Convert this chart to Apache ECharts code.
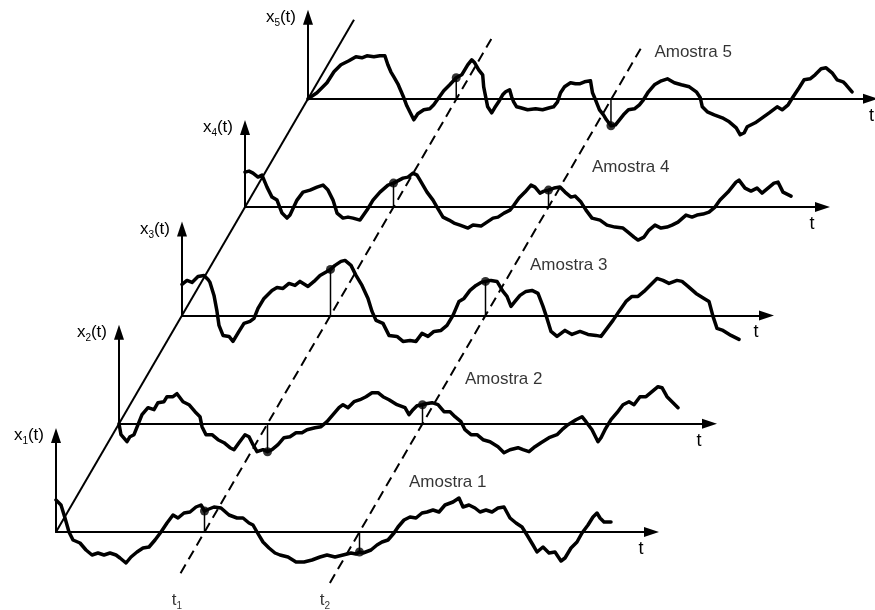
<!DOCTYPE html>
<html>
<head>
<meta charset="utf-8">
<title>Amostras de um processo aleatório</title>
<script src="https://cdn.jsdelivr.net/npm/echarts@6/dist/echarts.min.js"></script>
<style>
    html, body { margin: 0; padding: 0; background: #fff; }
    #grafico { width: 875px; height: 610px; }
</style>
</head>
<body>
<div id="grafico"></div>
<script>
// instantes de observação t1 e t2 (mesma escala do eixo t)
var instantes = [148.5, 303.5];
var nomesInstantes = ['1', '2'];

// valor de cada amostra (1..5) nos instantes t1 e t2
var valoresT1 = [21, -28, 46, 24, 21];
var valoresT2 = [-20, 19, 34, 17, -27];

var nomesAmostras = ['Amostra 1', 'Amostra 2', 'Amostra 3', 'Amostra 4', 'Amostra 5'];

// [t, x(t)]
var amostra1 = [[0, 32], [5, 27], [9, 14], [13, 0], [17, -8], [24, -11], [30, -18], [36, -23], [42, -21], [48, -23],
    [54, -21], [60, -23], [64, -26], [70, -31], [75, -25], [81, -20], [87, -16], [93, -15], [99, -8], [105, 0],
    [111, 9], [117, 17], [122, 14], [128, 19], [134, 20], [140, 25], [145, 27], [148.5, 21], [153, 23], [158, 25],
    [165, 24], [173, 17], [181, 14], [187, 14], [193, 9], [197, 7], [201, 0], [207, -10], [213, -16], [219, -21],
    [224, -23], [232, -25], [240, -30], [248, -30], [256, -28], [264, -25], [271, -23], [279, -25], [287, -23],
    [295, -21], [300, -22], [303.5, -20], [307, -21], [315, -18], [321, -13], [326, -10], [332, -8], [338, -1],
    [342, 5], [348, 12], [354, 15], [360, 14], [366, 19], [371, 20], [377, 22], [383, 20], [389, 27], [397, 30],
    [403, 34], [407, 25], [413, 27], [419, 24], [424, 20], [430, 22], [436, 20], [442, 24], [448, 25], [454, 14],
    [460, 9], [466, 5], [471, -3], [477, -13], [481, -20], [487, -15], [493, -21], [499, -20], [505, -29],
    [509, -26], [515, -16], [521, -10], [526, -1], [532, 7], [537, 15], [541, 19], [544, 14], [548, 10], [555, 10]];

var amostra2 = [[0, 0], [2, -11], [8, -18], [11, -13], [15, -11], [19, -1], [23, 9], [29, 16], [35, 14], [39, 21],
    [45, 22], [48, 27], [54, 27], [58, 30], [64, 22], [70, 19], [76, 12], [81, 7], [83, -3], [87, -11], [93, -11],
    [99, -16], [105, -19], [111, -24], [115, -26], [120, -19], [126, -11], [130, -13], [134, -21], [138, -28],
    [144, -26], [148.5, -28], [153, -26], [159, -21], [165, -14], [171, -13], [177, -9], [183, -9], [188, -6],
    [196, -4], [202, -3], [208, 2], [214, 9], [220, 16], [224, 19], [229, 16], [235, 22], [241, 24], [247, 27],
    [253, 31], [259, 31], [264, 27], [270, 24], [278, 19], [286, 16], [290, 9], [294, 14], [298, 18], [303.5, 19],
    [307, 20], [313, 21], [319, 19], [325, 12], [331, 12], [336, 7], [342, 2], [346, -6], [352, -11], [358, -11],
    [364, -16], [371, -18], [379, -23], [385, -29], [391, -26], [399, -24], [404, -26], [410, -28], [416, -23],
    [422, -19], [430, -14], [438, -11], [443, -6], [449, -1], [457, 4], [463, 7], [467, 2], [473, -6], [479, -18],
    [482, -14], [486, -6], [492, 4], [498, 11], [504, 19], [510, 22], [515, 19], [521, 27], [527, 27], [533, 32],
    [539, 37], [543, 36], [548, 27], [554, 21], [559, 16]];

var amostra3 = [[0, 31], [5, 35], [10, 33], [16, 39], [22, 40], [26, 36], [28, 33], [32, 20], [35, 4], [37, -10],
    [41, -20], [47, -21], [51, -26], [57, -16], [62, -8], [68, -6], [72, -3], [76, 7], [82, 17], [90, 25], [95, 28],
    [101, 27], [107, 32], [113, 30], [118, 34], [126, 29], [132, 34], [138, 40], [148.5, 46], [153, 50], [159, 54],
    [163, 55], [169, 50], [174, 40], [180, 30], [186, 17], [190, 4], [194, -5], [201, -8], [207, -20], [215, -21],
    [221, -26], [228, -25], [234, -26], [240, -18], [246, -21], [252, -16], [259, -15], [265, -10], [271, 0],
    [277, 14], [282, 17], [288, 25], [294, 30], [299, 33], [303.5, 34], [309, 35], [315, 34], [321, 24], [325, 19],
    [329, 9], [333, 14], [338, 20], [344, 24], [350, 25], [356, 22], [361, 9], [365, -3], [369, -16], [375, -21],
    [383, -15], [390, -19], [398, -16], [406, -19], [414, -20], [419, -21], [425, -13], [431, -5], [437, 4],
    [444, 14], [450, 19], [456, 19], [462, 24], [468, 30], [475, 37], [481, 35], [487, 32], [495, 35], [500, 34],
    [506, 29], [514, 22], [522, 17], [527, 14], [531, -1], [535, -13], [541, -15], [549, -20], [557, -24]];

var amostra4 = [[0, 35], [4, 36], [8, 34], [13, 30], [17, 32], [22, 20], [27, 10], [32, 7], [37, -6], [42, -11],
    [45, -8], [52, 7], [58, 15], [65, 17], [72, 20], [78, 22], [83, 17], [88, 7], [92, -6], [98, -11], [103, -10],
    [108, -11], [115, -13], [122, -3], [128, 7], [135, 15], [143, 22], [148.5, 24], [158, 29], [163, 30], [168, 34],
    [172, 32], [175, 27], [182, 15], [188, 7], [192, 0], [198, -10], [204, -13], [209, -16], [215, -18], [223, -21],
    [228, -18], [236, -19], [242, -15], [248, -11], [253, -10], [259, -6], [265, -3], [269, 2], [274, 9], [280, 15],
    [286, 22], [290, 20], [295, 14], [299, 16], [303.5, 17], [309, 19], [315, 20], [320, 15], [326, 10], [330, 11],
    [336, 5], [341, -3], [347, -11], [355, -13], [362, -18], [370, -20], [378, -21], [383, -25], [389, -30],
    [393, -33], [399, -30], [404, -23], [410, -18], [416, -21], [422, -20], [427, -18], [433, -15], [441, -8],
    [447, -10], [452, -8], [458, -7], [464, -5], [470, 0], [475, 7], [483, 15], [491, 25], [494, 27], [500, 19],
    [506, 16], [512, 19], [517, 14], [523, 19], [529, 24], [533, 25], [538, 15], [546, 11]];

var amostra5 = [[0, 0], [9, 6], [19, 16], [26, 27], [33, 34], [41, 38], [48, 42], [54, 41], [59, 43], [66, 42],
    [72, 43], [77, 43], [80, 34], [83, 27], [86, 22], [90, 15], [93, 8], [96, 1], [99, -7], [103, -15], [106, -21],
    [110, -15], [116, -11], [122, -10], [126, -6], [131, 1], [136, 8], [142, 14], [148.5, 21], [154, 24], [160, 34],
    [164, 39], [167, 36], [171, 29], [175, 24], [176, 12], [178, 2], [180, -8], [184, -14], [187, -9], [191, -3],
    [195, 4], [198, 7], [202, 9], [204, 2], [206, -3], [209, -8], [213, -9], [220, -11], [228, -10], [235, -11],
    [242, -9], [246, -8], [250, -3], [253, 6], [257, 12], [263, 16], [268, 15], [272, 15], [277, 17], [283, 18],
    [285, 6], [288, -1], [292, -11], [296, -16], [299, -21], [303.5, -27], [308, -26], [312, -21], [316, -16],
    [321, -11], [327, -10], [332, -6], [336, -1], [341, 7], [347, 14], [354, 18], [360, 20], [367, 16], [374, 14],
    [382, 12], [389, 7], [393, 1], [395, -8], [400, -13], [407, -16], [415, -19], [422, -23], [429, -29], [433, -36],
    [437, -34], [440, -28], [448, -24], [455, -19], [462, -14], [470, -8], [475, -11], [481, -6], [486, 2],
    [492, 11], [497, 19], [503, 20], [508, 24], [514, 30], [519, 31], [525, 26], [530, 19], [536, 17], [539, 14],
    [545, 7]];

var amostras = [amostra1, amostra2, amostra3, amostra4, amostra5];

// disposição em perspectiva: origem da amostra 1 e deslocamento entre amostras (px)
var origem = [56, 532];
var passo = [63, -108.3];
var compEixoT = [603, 598, 592, 585, 571];
var gapNomeT = [-10.5, -10.5, -10.5, -10.5, 1];
var altEixoX = [104, 99, 94, 87, 89];
var posRotulo = [[353, 50], [346, 44], [348, 50], [347, 40], [347, 46]];
var posRotuloInstante = [[177, 600], [325, 600]];
var seta = [10, 15];

function fn_amostras(id) {
    let el = document.getElementById(id);
    let myChart = echarts.init(el);
    let fonte = "'Liberation Sans', Arial, Helvetica, sans-serif";
    let rich = {
        v: { fontSize: 17, lineHeight: 22, color: '#000', fontFamily: fonte },
        s: { fontSize: 10, lineHeight: 10, verticalAlign: 'bottom', color: '#000', fontFamily: fonte }
    };
    let preto = { color: '#000', width: 2 };
    let grid = [], xAxis = [], yAxis = [], series = [];

    function ponto(d, t) {
        return [origem[0] + t + d * passo[0], origem[1] + d * passo[1]];
    }

    for (let k = 0; k < 5; k++) {
        let o = ponto(k, 0);
        let w = compEixoT[k] - seta[1] / 2;
        let h = altEixoX[k] - seta[1] / 2;
        grid.push({ left: o[0], top: o[1] - h, width: w, height: h });
        xAxis.push({
            gridIndex: k, type: 'value', min: 0, max: w,
            axisLine: { show: true, symbol: ['none', 'triangle'], symbolSize: seta, lineStyle: preto },
            axisTick: { show: false }, axisLabel: { show: false }, splitLine: { show: false },
            name: 't', nameLocation: 'end', nameGap: gapNomeT[k],
            nameTextStyle: { fontSize: 18, color: '#000', fontFamily: fonte, align: 'center', verticalAlign: 'top', padding: [8, 0, 0, 0] }
        });
        yAxis.push({
            gridIndex: k, type: 'value', min: 0, max: h,
            axisLine: { show: true, symbol: ['none', 'triangle'], symbolSize: seta, lineStyle: preto },
            axisTick: { show: false }, axisLabel: { show: false }, splitLine: { show: false },
            name: '{v|x}{s|' + (k + 1) + '}{v|(t)}', nameLocation: 'end', nameGap: 0,
            nameTextStyle: { align: 'right', verticalAlign: 'middle', padding: [0, 12, 0, 0], rich: rich }
        });

        series.push({
            type: 'line', xAxisIndex: k, yAxisIndex: k,
            data: amostras[k],
            showSymbol: false, clip: false, silent: true, z: 3,
            lineStyle: { color: '#000', width: 3.5, join: 'round', cap: 'round' }
        });

        let vals = [valoresT1[k], valoresT2[k]];
        instantes.forEach(function (t, j) {
            series.push({
                type: 'line', xAxisIndex: k, yAxisIndex: k,
                data: [[t, 0], [t, vals[j]]],
                showSymbol: false, clip: false, silent: true, z: 2,
                lineStyle: { color: '#000', width: 1.5 }
            });
        });
        series.push({
            type: 'scatter', xAxisIndex: k, yAxisIndex: k,
            data: instantes.map(function (t, j) { return [t, vals[j]]; }),
            symbolSize: 9, clip: false, silent: true, z: 4,
            itemStyle: { color: '#000' }
        });
        series.push({
            type: 'scatter', xAxisIndex: k, yAxisIndex: k,
            data: [posRotulo[k]],
            symbolSize: 0, clip: false, silent: true,
            label: {
                show: true, position: 'right', distance: 0,
                formatter: nomesAmostras[k],
                fontSize: 17, color: '#000', fontFamily: fonte
            }
        });
    }

    // grade de sobreposição em pixels para as retas oblíquas
    grid.push({ left: 0, top: 0, width: 875, height: 610 });
    xAxis.push({ gridIndex: 5, type: 'value', min: 0, max: 875, show: false });
    yAxis.push({ gridIndex: 5, type: 'value', min: 0, max: 610, inverse: true, show: false });

    series.push({
        type: 'line', xAxisIndex: 5, yAxisIndex: 5,
        data: [ponto(0, 0), ponto(4.73, 0)],
        showSymbol: false, silent: true, z: 2,
        lineStyle: { color: '#000', width: 2 }
    });
    let limites = [[-0.38, 4.58], [-0.47, 4.48]];
    instantes.forEach(function (t, j) {
        series.push({
            type: 'line', xAxisIndex: 5, yAxisIndex: 5,
            data: [ponto(limites[j][0], t), ponto(limites[j][1], t)],
            showSymbol: false, silent: true, z: 2,
            lineStyle: { color: '#000', width: 2, type: [10, 6] }
        });
    });
    series.push({
        type: 'scatter', xAxisIndex: 5, yAxisIndex: 5,
        data: posRotuloInstante,
        symbolSize: 0, silent: true,
        label: {
            show: true, position: 'inside',
            formatter: function (p) { return '{v|t}{s|' + nomesInstantes[p.dataIndex] + '}'; },
            rich: rich
        }
    });

    let option = {
        animation: false,
        backgroundColor: '#fff',
        textStyle: { fontFamily: fonte, color: '#000' },
        grid: grid,
        xAxis: xAxis,
        yAxis: yAxis,
        series: series
    };

    myChart.setOption(option);
}

fn_amostras('grafico');
</script>
</body>
</html>
